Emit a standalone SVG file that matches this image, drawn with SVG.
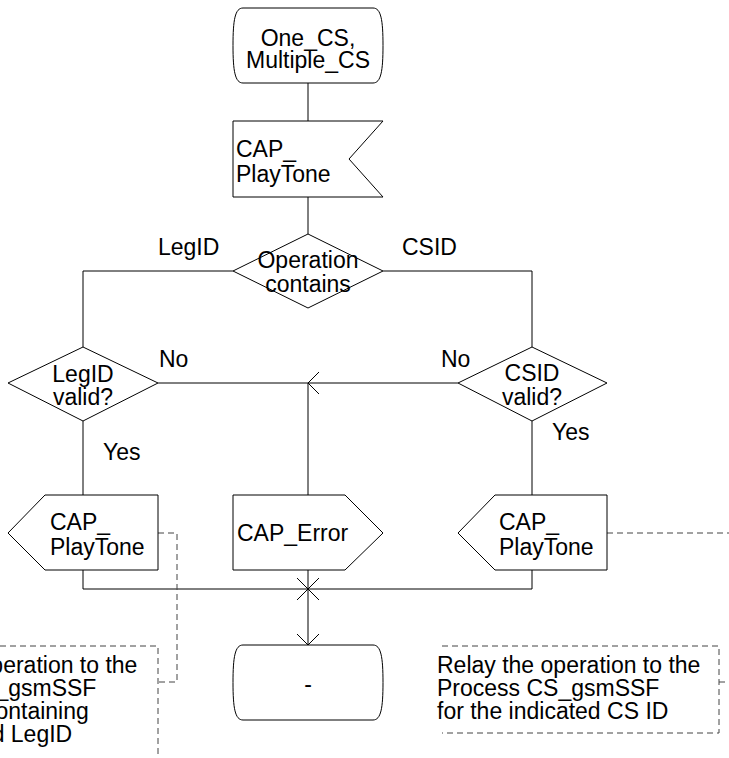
<svg xmlns="http://www.w3.org/2000/svg" width="729" height="758" viewBox="0 0 729 758">
<style>
.s{fill:#fff;stroke:#000;stroke-width:1}
.c{fill:none;stroke:#000;stroke-width:1}
.d{fill:none;stroke:#444;stroke-width:1;stroke-dasharray:6,4}
text{font-family:"Liberation Sans",Arial,sans-serif;font-size:23px;fill:#000}
.m{text-anchor:middle}
</style>
<rect width="729" height="758" fill="#fff"/>
<g id="connectors">
<path class="c" d="M308 83V121"/>
<path class="c" d="M308 197V234"/>
<path class="c" d="M233 271H83V347"/>
<path class="c" d="M383 271H532V347"/>
<path class="c" d="M83 421V495"/>
<path class="c" d="M532 421V495"/>
<path class="c" d="M158 383H458"/>
<path class="c" d="M319 372L308 383L319 394"/>
<path class="c" d="M308 383V495"/>
<path class="c" d="M83 570V589H532V570"/>
<path class="c" d="M308 570V645"/>
<path class="c" d="M297 578L319 600M319 578L297 600"/>
<path class="c" d="M297 634L308 645L319 634"/>
<path class="d" d="M158 533H177V682H158"/>
<path class="d" d="M607 533H729"/>
<path class="d" d="M719 682H729"/>
</g>
<g id="start">
<path class="s" d="M243 8H373C381 8 383 20 383 45.5C383 71 381 83 373 83H243C235 83 233 71 233 45.5C233 20 235 8 243 8Z"/>
<text class="m" x="308" y="46">One_CS,</text>
<text class="m" x="308" y="68">Multiple_CS</text>
</g>
<g id="input_playtone">
<polygon class="s" points="233,121 383,121 349,159 383,197 233,197"/>
<text x="236" y="157">CAP_</text>
<text x="236" y="182">PlayTone</text>
</g>
<g id="decision_operation">
<polygon class="s" points="308,234 383,271 308,308 233,271"/>
<text class="m" x="308" y="268">Operation</text>
<text class="m" x="308" y="292">contains</text>
</g>
<g id="labels">
<text x="158" y="255">LegID</text>
<text x="402" y="255">CSID</text>
<text x="159" y="367">No</text>
<text x="441" y="367">No</text>
<text x="103" y="460">Yes</text>
<text x="552" y="440">Yes</text>
</g>
<g id="decision_legid">
<polygon class="s" points="83,347 158,383 83,421 8,383"/>
<text class="m" x="83" y="382">LegID</text>
<text class="m" x="83" y="405">valid?</text>
</g>
<g id="decision_csid">
<polygon class="s" points="532,347 607,383 532,421 458,383"/>
<text class="m" x="532" y="381">CSID</text>
<text class="m" x="532" y="405">valid?</text>
</g>
<g id="output_playtone_left">
<polygon class="s" points="45,495 158,495 158,570 45,570 8,533"/>
<text x="50" y="530">CAP_</text>
<text x="50" y="555">PlayTone</text>
</g>
<g id="output_error">
<polygon class="s" points="233,495 345,495 383,533 345,570 233,570"/>
<text x="237" y="541">CAP_Error</text>
</g>
<g id="output_playtone_right">
<polygon class="s" points="495,495 607,495 607,570 495,570 458,533"/>
<text x="499" y="530">CAP_</text>
<text x="499" y="555">PlayTone</text>
</g>
<g id="end">
<path class="s" d="M243 645H373C381 645 383 657 383 682.5C383 708 381 720 373 720H243C235 720 233 708 233 682.5C233 657 235 645 243 645Z"/>
<text class="m" x="308" y="692">-</text>
</g>
<g id="note_left">
<path class="d" d="M0 646H158V758"/>
<text x="-126" y="673">Relay the operation to the</text>
<text x="-126" y="696">Process CS_gsmSSF</text>
<text x="-126" y="719">for the CS containing</text>
<text x="-126" y="742">the indicated LegID</text>
</g>
<g id="note_right">
<path class="d" d="M442 646H719V733H442"/>
<text x="437" y="673">Relay the operation to the</text>
<text x="437" y="696">Process CS_gsmSSF</text>
<text x="437" y="719">for the indicated CS ID</text>
</g>
</svg>
